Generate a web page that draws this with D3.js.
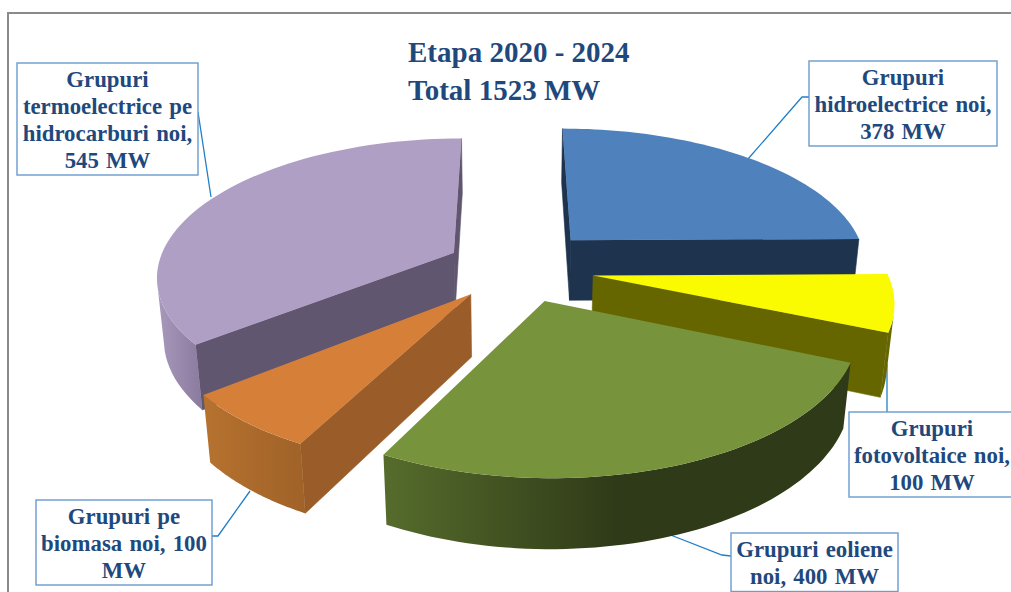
<!DOCTYPE html>
<html>
<head>
<meta charset="utf-8">
<script src="https://d3js.org/d3.v7.min.js"></script>
<style>
  html, body { margin: 0; padding: 0; background: #fff; overflow: hidden; }
  text { font-family: "Liberation Serif", serif; font-weight: bold; fill: #1F497D; }
</style>
</head>
<body>
<div id="chart"></div>
<script>
// chart values
var categories = ["Grupuri hidroelectrice noi", "Grupuri fotovoltaice noi", "Grupuri eoliene noi", "Grupuri pe biomasa noi", "Grupuri termoelectrice pe hidrocarburi noi"];
var values = [378, 100, 400, 100, 545];
var titleLines = ["Etapa 2020 - 2024", "Total 1523 MW"];
var labelLines = [
  ["Grupuri", "hidroelectrice noi,", "378 MW"],
  ["Grupuri", "fotovoltaice noi,", "100 MW"],
  ["Grupuri eoliene", "noi, 400 MW"],
  ["Grupuri pe", "biomasa noi, 100", "MW"],
  ["Grupuri", "termoelectrice pe", "hidrocarburi noi,", "545 MW"]
];

// how far each slice is pulled out of the pie, plus small hand fitted offsets
var explode = [0.29, 0.28, 0.27, 0.2, 0.2];
var nudgeX = [0.005, 0, 0.02, 0, -0.01];
var nudgeZ = [0, 0, -0.025, 0.03, -0.025];
var sliceScale = [0.995, 0.975, 0.99, 0.98, 0.99];

// slice colours: top, flat cut walls, rim from left to right
var topColors = ["#4F81BD", "#FAFA00", "#77933C", "#D67F39", "#B09FC5"];
var wallColors = ["#1E334E", "#666600", "#3A4A1E", "#9A5C28", "#615670"];
var rimLeft = ["#1E334E", "#666600", "#566C2C", "#B6722F", "#A898BC"];
var rimRight = ["#1E334E", "#666600", "#2F3A18", "#A06228", "#8A7A9E"];
var rimMidStop = [100, 100, 50, 100, 100];

// label boxes and their leader lines
var labelBoxes = [
  {x: 809, y: 61, w: 188, h: 85},
  {x: 849, y: 412, w: 170, h: 85},
  {x: 731, y: 533, w: 167, h: 58.5},
  {x: 36, y: 500, w: 176, h: 85},
  {x: 17, y: 63, w: 181, h: 112}
];
var leaders = [
  [[809, 97], [802, 97], [748, 159]],
  [[887, 412], [887, 364]],
  [[731, 556], [722, 555], [668, 534]],
  [[212, 536], [218, 536], [250, 491]],
  [[198, 112], [211, 197]]
];

var svgWidth = 1011, svgHeight = 592;

var svg = d3.select("#chart").append("svg")
  .attr("width", svgWidth)
  .attr("height", svgHeight)
  .style("display", "block");
var defs = svg.append("defs");

// camera for the tilted pie
var view = {cx: 510, cy: 268, radius: 300, tilt: 0.48, dist: 5.5, depth: 0.235};

function project(x, z, h) {
  var yv = z * Math.sin(view.tilt) + h * Math.cos(view.tilt);
  var d = view.dist - z * Math.cos(view.tilt) + h * Math.sin(view.tilt);
  var s = view.dist / d;
  return [view.cx + view.radius * x * s, view.cy + view.radius * yv * s];
}

// signed area, tells whether a wall faces the viewer
function facing(pts) {
  return d3.polygonArea(pts) > 0;
}

var pie = d3.pie().sort(null).startAngle(0).endAngle(2 * Math.PI);
var arcs = pie(values);
var line = d3.line();

// frame
svg.append("path")
  .attr("d", line([[8, svgHeight], [8, 13], [svgWidth, 13]]))
  .attr("fill", "none")
  .attr("stroke", "#8a8a8a")
  .attr("stroke-width", 2);

// leader lines go under the slices
leaders.forEach(function(pts) {
  svg.append("path")
    .attr("d", line(pts))
    .attr("fill", "none")
    .attr("stroke", "#1F7FC8")
    .attr("stroke-width", 1.3);
});

// back slices first so the nearer ones cover them
var drawOrder = [0, 4, 1, 3, 2];

drawOrder.forEach(function(i) {
  var a = arcs[i];
  var mid = (a.startAngle + a.endAngle) / 2;
  var ox = explode[i] * Math.sin(mid) + nudgeX[i];
  var oz = -explode[i] * Math.cos(mid) + nudgeZ[i];
  var r = sliceScale[i];
  var g = svg.append("g").attr("class", "slice");

  var angles = d3.range(0, 61).map(function(k) {
    return a.startAngle + (a.endAngle - a.startAngle) * k / 60;
  });
  var rimPoint = function(t, h) {
    return project(ox + r * Math.sin(t), oz - r * Math.cos(t), h);
  };

  function wall(pts, color) {
    if (!facing(pts)) return;
    g.append("path")
      .attr("d", line(pts) + "Z")
      .attr("fill", color)
      .attr("stroke", color)
      .attr("stroke-width", 0.6);
  }

  // flat cut walls
  [a.startAngle, a.endAngle].forEach(function(t, n) {
    var pts = [
      project(ox, oz, 0),
      rimPoint(t, 0),
      rimPoint(t, view.depth),
      project(ox, oz, view.depth)
    ];
    if (n === 1) pts.reverse();
    wall(pts, wallColors[i]);
  });

  // curved rim: keep the part of the arc that faces the viewer
  var visible = angles.filter(function(t, k) {
    var next = angles[Math.min(k + 1, 60)];
    var prev = angles[Math.max(k - 1, 0)];
    return facing([rimPoint(prev, 0), rimPoint(next, 0), rimPoint(next, view.depth), rimPoint(prev, view.depth)]);
  });
  if (visible.length > 1) {
    var rimPts = visible.map(function(t) { return rimPoint(t, 0); })
      .concat(visible.slice().reverse().map(function(t) { return rimPoint(t, view.depth); }));
    var xr = d3.extent(rimPts, function(p) { return p[0]; });
    var grad = defs.append("linearGradient")
      .attr("id", "rim" + i)
      .attr("gradientUnits", "userSpaceOnUse")
      .attr("x1", xr[0]).attr("x2", xr[1])
      .attr("y1", 0).attr("y2", 0);
    grad.append("stop").attr("offset", "0%").attr("stop-color", rimLeft[i]);
    grad.append("stop").attr("offset", rimMidStop[i] + "%").attr("stop-color", rimRight[i]);
    g.append("path")
      .attr("d", line(rimPts) + "Z")
      .attr("fill", "url(#rim" + i + ")");
  }

  // top face
  var top = [project(ox, oz, 0)].concat(angles.map(function(t) { return rimPoint(t, 0); }));
  g.append("path")
    .attr("d", line(top) + "Z")
    .attr("fill", topColors[i]);
});

// labels
labelLines.forEach(function(lines, i) {
  var b = labelBoxes[i];
  var lineH = 27;
  svg.append("rect")
    .attr("x", b.x).attr("y", b.y)
    .attr("width", b.w).attr("height", b.h)
    .attr("fill", "#fff")
    .attr("stroke", "#6C9BCF")
    .attr("stroke-width", 1.4);
  var cx = i === 1 ? b.x + 83 : b.x + b.w / 2;
  var first = b.y + (b.h - lineH * lines.length) / 2 + 22;
  lines.forEach(function(t, k) {
    svg.append("text")
      .attr("x", cx)
      .attr("y", first + k * lineH)
      .attr("text-anchor", "middle")
      .attr("font-size", 22.8)
      .attr("word-spacing", 1.5)
      .text(t);
  });
});

// title
titleLines.forEach(function(t, k) {
  svg.append("text")
    .attr("x", 408)
    .attr("y", 62 + k * 38)
    .attr("font-size", 29)
    .text(t);
});
</script>
</body>
</html>
